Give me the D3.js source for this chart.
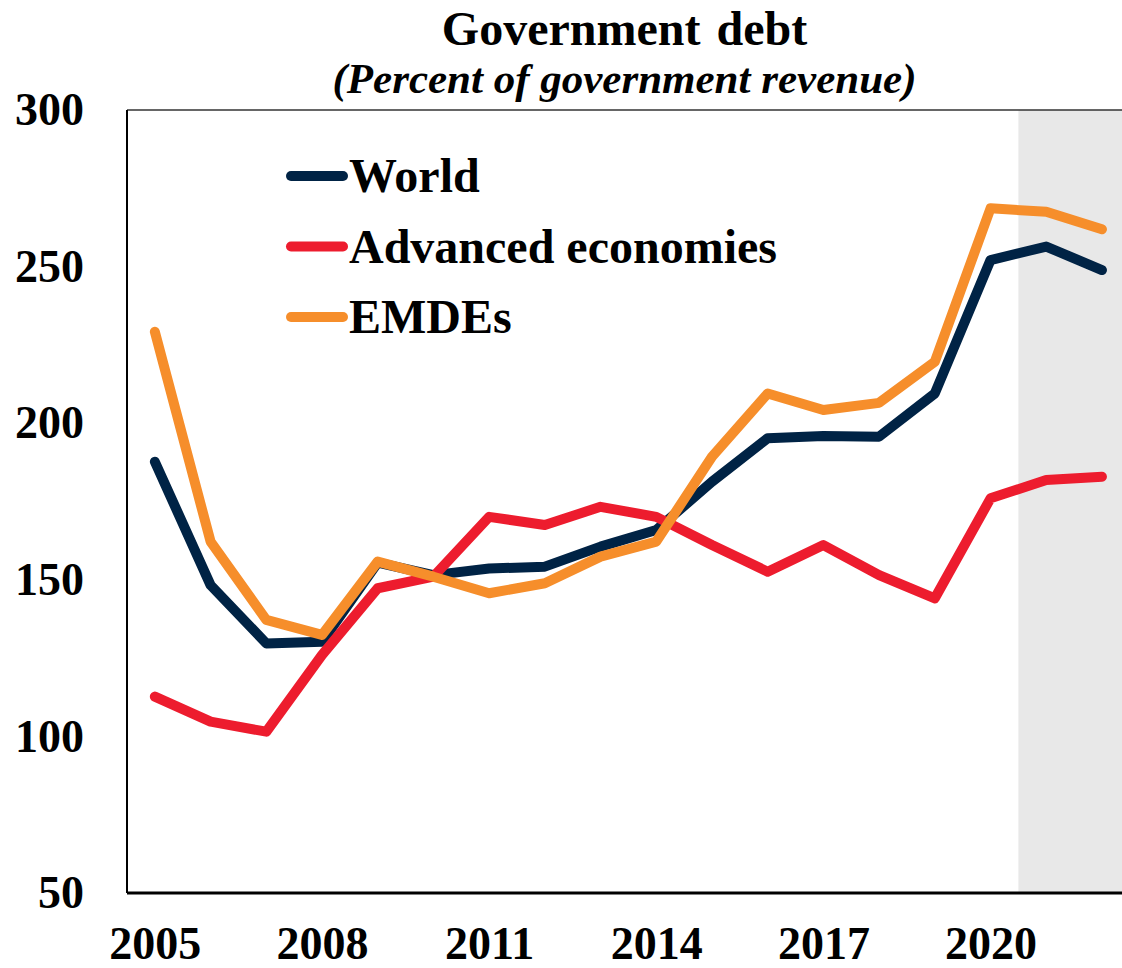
<!DOCTYPE html>
<html>
<head>
<meta charset="utf-8">
<script src="https://cdn.jsdelivr.net/npm/d3@7"></script>
<style>
  body { margin: 0; background: #fff; }
  text { font-family: "Liberation Serif", "Times New Roman", serif; font-weight: bold; }
</style>
</head>
<body>
<div id="viz-container"></div>
<script>
let years = [2005, 2006, 2007, 2008, 2009, 2010, 2011, 2012, 2013, 2014, 2015, 2016, 2017, 2018, 2019, 2020, 2021, 2022];
let world = [187.7, 148.3, 129.7, 130.2, 155.5, 151.5, 153.6, 154.2, 160.6, 165.9, 181.3, 195.2, 195.9, 195.7, 209.5, 252.1, 256.4, 248.9];
let advanced = [112.7, 104.7, 101.5, 126, 147.3, 151, 170.1, 167.5, 173.3, 170.1, 161.1, 152.6, 161.1, 151.5, 144.1, 176, 181.9, 182.9];
let emdes = [229.2, 162.2, 137.2, 132.4, 155.8, 151, 145.7, 148.9, 157.4, 162.2, 189.3, 209.5, 204.2, 206.5, 219.6, 268.6, 267.5, 261.9];
let seriesNames = ["World", "Advanced economies", "EMDEs"];
let seriesColors = ["#002345", "#ed1c2e", "#f68e2b"];
let yTicks = [50, 100, 150, 200, 250, 300];
let xTicks = [2005, 2008, 2011, 2014, 2017, 2020];
let shadeStart = 2020.5;

let width = 1122, height = 968;
let plotLeft = 127, plotRight = 1122, plotTop = 110, plotBottom = 893;

let viz = d3.select("#viz-container")
    .append("svg")
        .attr("width", width)
        .attr("height", height)
;

let x = d3.scaleLinear().domain([2004.5, 2022.36]).range([plotLeft, plotRight]);
let y = d3.scaleLinear().domain([50, 300]).range([plotBottom, plotTop]);

// forecast shading
viz.append("rect")
    .attr("x", x(shadeStart))
    .attr("y", plotTop)
    .attr("width", plotRight - x(shadeStart))
    .attr("height", plotBottom - plotTop)
    .attr("fill", "#e8e8e8")
;

// frame
viz.append("line")
    .attr("x1", plotLeft).attr("x2", plotRight)
    .attr("y1", plotTop).attr("y2", plotTop)
    .attr("stroke", "#333").attr("stroke-width", 1.5)
;
viz.append("line")
    .attr("x1", plotLeft).attr("x2", plotLeft)
    .attr("y1", plotTop).attr("y2", plotBottom)
    .attr("stroke", "#000").attr("stroke-width", 2)
;
viz.append("line")
    .attr("x1", plotLeft).attr("x2", plotRight)
    .attr("y1", plotBottom).attr("y2", plotBottom)
    .attr("stroke", "#000").attr("stroke-width", 3)
;

// y axis labels
let yAxis = d3.axisLeft(y).tickValues(yTicks).tickSize(0).tickPadding(43);
viz.append("g")
    .attr("transform", `translate(${plotLeft},0)`)
    .call(yAxis)
    .call(g => g.select(".domain").remove())
    .selectAll("text")
        .attr("font-size", 46)
        .attr("fill", "#000")
        .attr("font-family", "Liberation Serif")
        .attr("font-weight", "bold")
;

// x axis labels
let xAxis = d3.axisBottom(x).tickValues(xTicks).tickFormat(d3.format("d")).tickSize(0).tickPadding(33);
viz.append("g")
    .attr("transform", `translate(0,${plotBottom})`)
    .call(xAxis)
    .call(g => g.select(".domain").remove())
    .selectAll("text")
        .attr("font-size", 46)
        .attr("fill", "#000")
        .attr("font-family", "Liberation Serif")
        .attr("font-weight", "bold")
;

// lines
let allSeries = [world, advanced, emdes];
let line = d3.line()
    .x((d, i) => x(years[i]))
    .y(d => y(d));

viz.selectAll(".series").data(allSeries).enter()
    .append("path")
        .attr("class", "series")
        .attr("d", d => line(d))
        .attr("fill", "none")
        .attr("stroke", (d, i) => seriesColors[i])
        .attr("stroke-width", 10)
        .attr("stroke-linejoin", "round")
        .attr("stroke-linecap", "round")
;

// title
viz.append("text")
    .attr("x", (plotLeft + plotRight) / 2)
    .attr("y", 45)
    .attr("text-anchor", "middle")
    .attr("font-size", 48)
    .attr("word-spacing", 4)
    .text("Government debt")
;
viz.append("text")
    .attr("x", (plotLeft + plotRight) / 2)
    .attr("y", 93)
    .attr("text-anchor", "middle")
    .attr("font-size", 43)
    .attr("font-style", "italic")
    .text("(Percent of government revenue)")
;

// legend
let legend = viz.selectAll(".legendItem").data(seriesNames).enter()
    .append("g")
        .attr("class", "legendItem")
        .attr("transform", (d, i) => `translate(291,${176 + i * 70.5})`)
;
legend.append("line")
    .attr("x1", 0).attr("x2", 52)
    .attr("stroke", (d, i) => seriesColors[i])
    .attr("stroke-width", 10)
    .attr("stroke-linecap", "round")
;
legend.append("text")
    .attr("x", 58)
    .attr("y", 16)
    .attr("font-size", 48)
    .text(d => d)
;
</script>
</body>
</html>
